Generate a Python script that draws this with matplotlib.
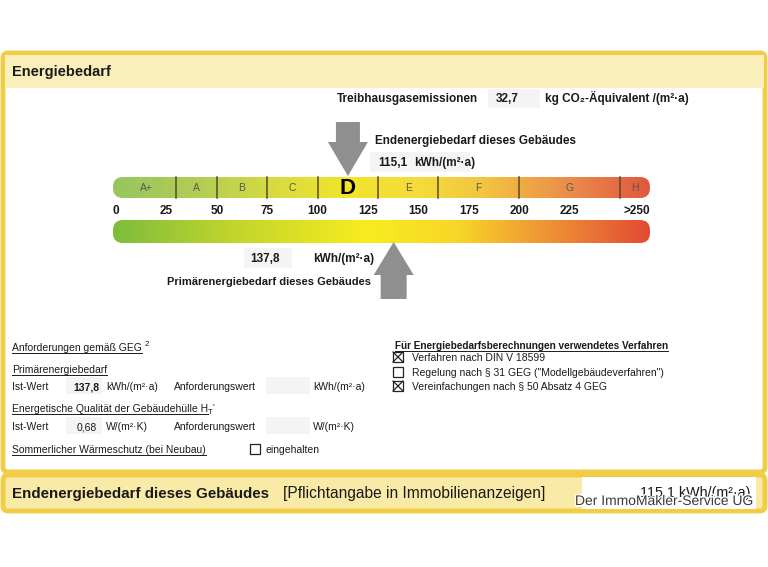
# Energieausweis - Energiebedarf
import numpy as np
import matplotlib.pyplot as plt
import matplotlib.patheffects as pe
from matplotlib.colors import LinearSegmentedColormap, Normalize
from matplotlib.patches import FancyBboxPatch, Rectangle, Polygon

plt.rcParams['font.family'] = ['Liberation Sans', 'DejaVu Sans']

# --- data ---
classes = ['A+', 'A', 'B', 'C', 'D', 'E', 'F', 'G', 'H']
class_bounds = [0, 30, 50, 75, 100, 130, 160, 200, 250, 265]
current_class = 'D'
tick_values = [0, 25, 50, 75, 100, 125, 150, 175, 200, 225]
tick_labels = ['0', '25', '50', '75', '100', '125', '150', '175', '200', '225']
end_energy = 115.1       # kWh/(m²·a)
primary_energy = 137.8   # kWh/(m²·a)
ghg = '32,7'
ht_value = '0,68'
top_stops = [(0, '#96c560'), (40, '#b2cd55'), (80, '#d9dc40'), (115, '#f2e42c'),
             (150, '#f5dc3a'), (185, '#f2c240'), (225, '#eb8d4a'), (265, '#e0583f')]
bottom_stops = [(0, '#7dbd3c'), (60, '#c4d62c'), (125, '#f8ec1e'), (170, '#f7d628'),
                (205, '#f1a033'), (235, '#eb7636'), (265, '#e24b31')]
procedures = ['Verfahren nach DIN V 18599',
              'Regelung nach § 31 GEG ("Modellgebäudeverfahren")',
              'Vereinfachungen nach § 50 Absatz 4 GEG']
procedure_checked = [True, False, True]

W, H = 768, 567
fig = plt.figure(figsize=(W / 100, H / 100), dpi=100)
ax = fig.add_axes([0, 0, 1, 1])
ax.set_xlim(0, W)
ax.set_ylim(H, 0)
ax.axis('off')
renderer = fig.canvas.get_renderer()

YEL = '#f1cd45'
ax.add_patch(FancyBboxPatch((3, 53), 762, 419, boxstyle='round,pad=0,rounding_size=5',
                            fc='white', ec=YEL, lw=3.5, zorder=0))
ax.add_patch(Rectangle((4.5, 54.5), 759, 33, fc='#faefba', ec='none', zorder=0.5))
ax.add_patch(FancyBboxPatch((3, 475), 762, 36, boxstyle='round,pad=0,rounding_size=5',
                            fc='#f9eaa8', ec=YEL, lw=3.5, zorder=0))
ax.add_patch(Rectangle((582, 477), 174, 32, fc='white', ec='none', zorder=0.6))

SMALL = 7.5
MID = 8.5


def put(x, y, s, size=SMALL, weight='normal', **kw):
    kw.setdefault('va', 'baseline')
    return ax.text(x, y, s, fontsize=size, fontweight=weight, color=kw.pop('color', '#1a1a1a'), **kw)


def right(t):
    bb = t.get_window_extent(renderer)
    return bb.x1 * W / fig.bbox.width


def underline(t, off=2.0):
    x0 = t.get_position()[0]
    y0 = t.get_position()[1] + off
    ax.plot([x0, right(t)], [y0, y0], color='#1a1a1a', lw=0.7)


def box(x, y, checked):
    ax.add_patch(Rectangle((x, y), 10, 10, fc='none', ec='#222222', lw=0.9))
    if checked:
        ax.plot([x, x + 10], [y, y + 10], color='#222222', lw=0.9)
        ax.plot([x, x + 10], [y + 10, y], color='#222222', lw=0.9)


# faint value fields
for (x, y, w, h) in [(488, 89, 52, 19), (370, 152, 100, 20), (244, 248, 48, 20),
                     (66, 377, 36, 17), (266, 377, 44, 17), (66, 417, 36, 17), (266, 417, 44, 17)]:
    ax.add_patch(Rectangle((x, y), w, h, fc='#f4f4f4', ec='none', zorder=0.7))

put(12, 76, 'Energiebedarf', size=10.5, weight='bold')
put(337, 102, 'Treibhausgasemissionen', size=MID, weight='bold')
put(496, 102, ghg, size=MID, weight='bold')
put(545, 102, 'kg CO₂-Äquivalent /(m²·a)', size=MID, weight='bold')
put(375, 144, 'Endenergiebedarf dieses Gebäudes', size=MID, weight='bold')
put(378, 166, f'{end_energy:.1f}'.replace('.', ','), size=MID, weight='bold')
put(414, 166, 'kWh/(m²·a)', size=MID, weight='bold')
put(250, 262, f'{primary_energy:.1f}'.replace('.', ','), size=MID, weight='bold')
put(313, 262, 'kWh/(m²·a)', size=MID, weight='bold')
put(167, 285, 'Primärenergiebedarf dieses Gebäudes', size=8, weight='bold')

# --- scale ---
px0, ppu = 116, 2.015
sx0, sx1, sy0, sy1 = 100, 670, 110, 305
sax = fig.add_axes([sx0 / W, 1 - sy1 / H, (sx1 - sx0) / W, (sy1 - sy0) / H])
sax.patch.set_visible(False)
sax.axis('off')
lo, hi = -1.5, class_bounds[-1]


def gradient_bar(stops, y_top, y_bot):
    cmap = LinearSegmentedColormap.from_list(
        'g', [((v - lo) / (hi - lo), c) for v, c in [(lo, stops[0][1])] + stops[1:]])
    vals = np.linspace(lo, hi, 800)
    img = cmap(Normalize(lo, hi)(vals))[None, :, :]
    im = sax.imshow(img, extent=[lo, hi, y_bot, y_top], aspect='auto', interpolation='bilinear', zorder=1)
    clip = FancyBboxPatch((lo, y_top), hi - lo, y_bot - y_top,
                          boxstyle=f'round,pad=0,rounding_size={10 / ppu}',
                          mutation_aspect=ppu, fc='none', ec='none', transform=sax.transData)
    im.set_clip_path(clip)


gradient_bar(top_stops, 177, 198)
gradient_bar(bottom_stops, 220, 243)

for b in class_bounds[1:-1]:
    sax.plot([b, b], [177, 198], color='#5b4a2e', lw=1.1, zorder=3)
for i, c in enumerate(classes):
    mid = (class_bounds[i] + class_bounds[i + 1]) / 2
    if c == current_class:
        sax.text(mid, 188, c, ha='center', va='center', fontsize=16, fontweight='bold',
                 color='black', zorder=4)
    else:
        sax.text(mid, 188, c, ha='center', va='center', fontsize=7.5, color='#5a5a4a', zorder=4)
for v, lab in zip(tick_values, tick_labels):
    sax.text(v, 211, lab, ha='center', va='center', fontsize=8.5, fontweight='bold', color='#1a1a1a')
sax.text(hi, 211, '>250', ha='right', va='center', fontsize=8.5, fontweight='bold', color='#1a1a1a')


def arrow(v, y_tail, y_base, y_tip, shaft, head):
    hs, hh = shaft / 2 / ppu, head / 2 / ppu
    pts = [(v - hs, y_tail), (v + hs, y_tail), (v + hs, y_base), (v + hh, y_base),
           (v, y_tip), (v - hh, y_base), (v - hs, y_base)]
    sax.add_patch(Polygon(pts, closed=True, fc='#8f8f8f', ec='none', zorder=5))


arrow(end_energy, 122, 142, 176, 24, 40)
arrow(primary_energy, 299, 275, 242, 26, 40)
sax.set_xlim((sx0 - px0) / ppu, (sx1 - px0) / ppu)
sax.set_ylim(sy1, sy0)

# --- requirements ---
t = put(12, 351, 'Anforderungen gemäß GEG')
underline(t)
put(right(t) + 3, 346, '2', size=5.5)
underline(put(12, 373, 'Primärenergiebedarf'))
put(12, 390, 'Ist-Wert')
put(73, 390, f'{primary_energy:.1f}'.replace('.', ','), weight='bold')
put(106, 390, 'kWh/(m²·a)')
put(174, 390, 'Anforderungswert')
put(313, 390, 'kWh/(m²·a)')
t = put(12, 412, 'Energetische Qualität der Gebäudehülle H')
underline(t)
t2 = put(right(t), 414, 'T', size=5.5)
put(right(t2), 410, "'", size=6.5)
put(12, 430, 'Ist-Wert')
put(77, 430, ht_value)
put(106, 430, 'W/(m²·K)')
put(174, 430, 'Anforderungswert')
put(313, 430, 'W/(m²·K)')
underline(put(12, 453, 'Sommerlicher Wärmeschutz (bei Neubau)'))
box(250, 444, False)
put(266, 453, 'eingehalten')

underline(put(395, 349, 'Für Energiebedarfsberechnungen verwendetes Verfahren', size=7.2, weight='bold'))
for i, (p, chk) in enumerate(zip(procedures, procedure_checked)):
    y = 357 + i * 14.5
    box(393, y - 5, chk)
    put(412, y + 4, p)

# --- bottom band ---
put(12, 498, 'Endenergiebedarf dieses Gebäudes', size=10.9, weight='bold')
put(283, 498, '[Pflichtangabe in Immobilienanzeigen]', size=11.2)
put(640, 497, f'{end_energy:.1f}'.replace('.', ',') + ' kWh/(m²·a)', size=10.3)
put(575, 505, 'Der ImmoMakler-Service UG', size=10, color='#3a3a3a',
    path_effects=[pe.withStroke(linewidth=2, foreground='white')])

fig.savefig('out.png', dpi=100)
